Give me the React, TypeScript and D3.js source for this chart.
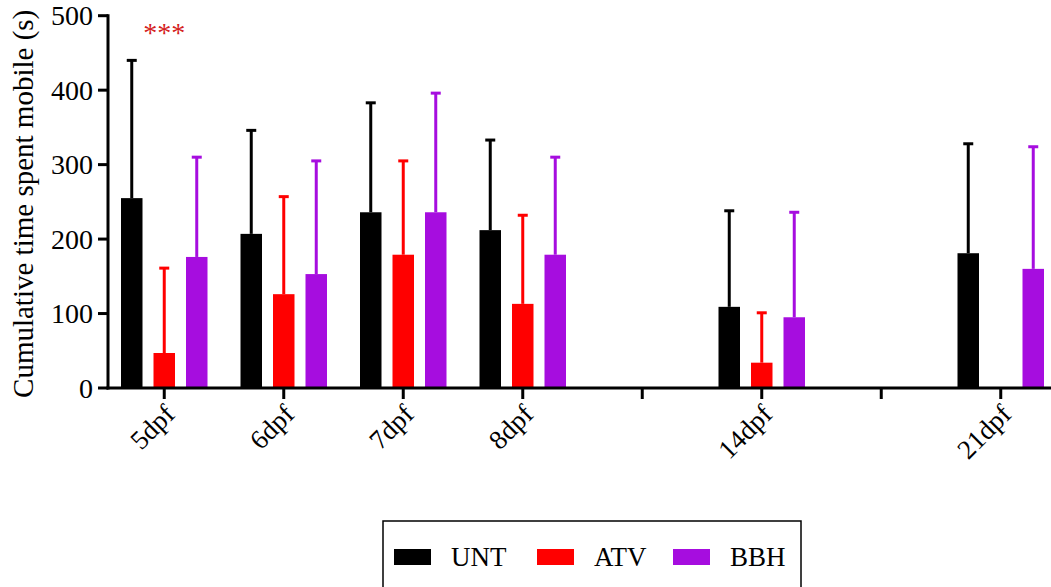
import * as d3 from "d3";

// timepoints (blank slots keep the spacing of the original x axis)
const dayKeys = ["5dpf", "6dpf", "7dpf", "8dpf", "9-13", "14dpf", "15-20", "21dpf"];
const dayLabels = ["5dpf", "6dpf", "7dpf", "8dpf", "", "14dpf", "", "21dpf"];
const groups = ["UNT", "ATV", "BBH"];
const colors = ["#000000", "#ff0000", "#a60ddf"];

// mean cumulative time mobile (s) and SD, null = no data
const untMean = [255, 207, 236, 212, null, 109, null, 181];
const untSd = [185, 139, 147, 121, null, 129, null, 147];
const atvMean = [47, 126, 179, 113, null, 34, null, null];
const atvSd = [114, 131, 126, 119, null, 67, null, null];
const bbhMean = [176, 153, 236, 179, null, 95, null, 160];
const bbhSd = [134, 152, 160, 131, null, 141, null, 164];

const yTicks = [0, 100, 200, 300, 400, 500];

const W = 1051;
const H = 587;
const font = "Liberation Serif, Times New Roman, DejaVu Serif, serif";

export default function App() {
  const means = [untMean, atvMean, bbhMean];
  const sds = [untSd, atvSd, bbhSd];

  const x = d3.scaleBand().domain(dayKeys).range([104.5, 1060.5]);
  const xSub = d3.scalePoint().domain(groups).range([-32.5, 32.5]);
  const y = d3.scaleLinear().domain([0, 500]).range([388, 15.7]);
  const barW = 21.5;
  const cx = (k: string) => (x(k) as number) + x.bandwidth() / 2;
  const ts = { fontFamily: font };

  return (
    <svg
      width={W}
      height={H}
      viewBox={`0 0 ${W} ${H}`}
      style={{ position: "absolute", left: 0, top: 0, background: "#fff" }}
    >
      {/* bars + error bars */}
      {groups.map((g, gi) =>
        dayKeys.map((k, i) => {
          const m = means[gi][i];
          if (m == null) return null;
          const sd = sds[gi][i] ?? 0;
          const bx = cx(k) + (xSub(g) as number);
          return (
            <g key={g + k}>
              <line x1={bx} x2={bx} y1={y(m)} y2={y(m + sd)} stroke={colors[gi]} strokeWidth={3} />
              <line x1={bx - 5} x2={bx + 5} y1={y(m + sd)} y2={y(m + sd)} stroke={colors[gi]} strokeWidth={3} />
              <rect x={bx - barW / 2} y={y(m)} width={barW} height={y(0) - y(m)} fill={colors[gi]} />
            </g>
          );
        })
      )}

      {/* y axis */}
      <line x1={108} x2={108} y1={y(0) + 1.5} y2={y(500) - 1.5} stroke="#000" strokeWidth={3} />
      {yTicks.map((t) => (
        <g key={t}>
          <line x1={98} x2={108} y1={y(t)} y2={y(t)} stroke="#000" strokeWidth={3} />
          <text x={93} y={y(t)} dy="0.34em" textAnchor="end" fontSize={28} fill="#000" style={ts}>
            {t}
          </text>
        </g>
      ))}
      <text
        transform={`translate(33, ${y(250) + 2}) rotate(-90)`}
        textAnchor="middle"
        fontSize={29}
        fill="#000"
        style={ts}
      >
        Cumulative time spent mobile (s)
      </text>

      {/* x axis */}
      <line x1={106.5} x2={W} y1={y(0)} y2={y(0)} stroke="#000" strokeWidth={3} />
      {dayKeys.map((k, i) => (
        <g key={k}>
          <line x1={cx(k)} x2={cx(k)} y1={y(0)} y2={y(0) + 11} stroke="#000" strokeWidth={3} />
          <text
            transform={`translate(${cx(k) + 12}, ${y(0) + 28}) rotate(-45)`}
            textAnchor="end"
            fontSize={27}
            fill="#000"
            style={ts}
          >
            {dayLabels[i]}
          </text>
        </g>
      ))}

      {/* significance */}
      <text x={cx("5dpf")} y={42} textAnchor="middle" fontSize={28} fill="#d42020" style={ts}>
        ***
      </text>

      {/* legend */}
      <rect x={383} y={521} width={418} height={90} fill="none" stroke="#000" strokeWidth={1.5} />
      {groups.map((g, gi) => {
        const lx = [394, 537, 673][gi];
        return (
          <g key={g}>
            <rect x={lx} y={549} width={37} height={16} fill={colors[gi]} />
            <text x={lx + 57} y={565.5} fontSize={27} fill="#000" style={ts}>
              {g}
            </text>
          </g>
        );
      })}
    </svg>
  );
}
